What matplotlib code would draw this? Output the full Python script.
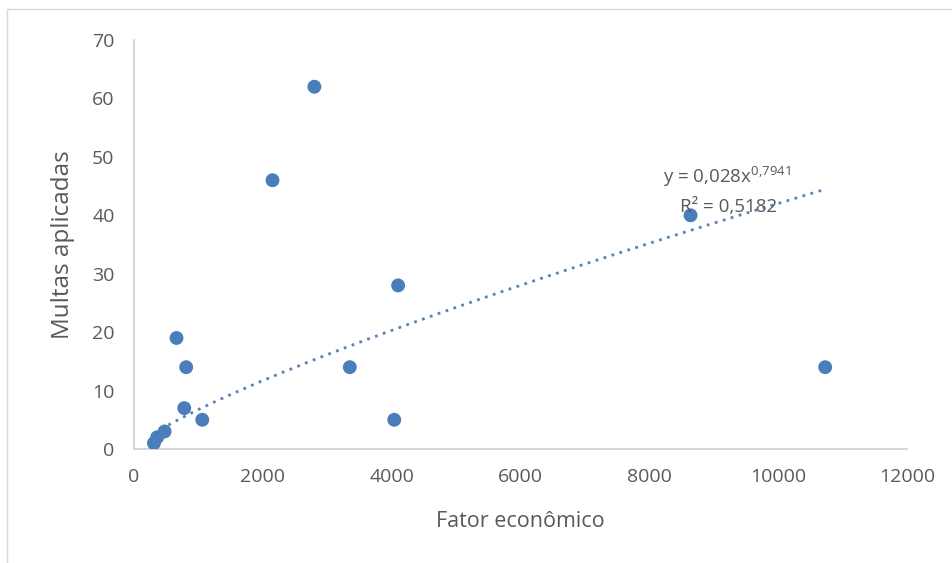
import numpy as np
import matplotlib
matplotlib.use("Agg")
import matplotlib.pyplot as plt
from matplotlib.patches import Rectangle

# Economic factor vs. fines applied
fator_economico = [2800, 2150, 8640, 4100, 10730, 3350, 4040, 660, 810, 780, 1060, 475, 360, 310]
multas_aplicadas = [62, 46, 40, 28, 14, 14, 5, 19, 14, 7, 5, 3, 2, 1]

# Power trendline y = a * x^b
coef_a = 0.028
coef_b = 0.7941
r_quadrado = "0,5182"

x_ticks = [0, 2000, 4000, 6000, 8000, 10000, 12000]
y_ticks = [0, 10, 20, 30, 40, 50, 60, 70]

plt.rcParams["font.family"] = ["Open Sans", "DejaVu Sans"]
plt.rcParams["mathtext.fontset"] = "custom"
plt.rcParams["mathtext.rm"] = "Open Sans"
plt.rcParams["mathtext.it"] = "Open Sans"
plt.rcParams["mathtext.default"] = "regular"
blue = "#4A7EBB"
gray_text = "#595959"
spine_gray = "#D0D0D0"

fig = plt.figure(figsize=(9.52, 5.63), dpi=100)
fig.patches.append(Rectangle((7 / 952, -0.01), 1.0, 1 - 9 / 563 + 0.01,
                             transform=fig.transFigure, fill=False,
                             edgecolor="#D9D9D9", linewidth=1.0))

ax = fig.add_axes([134 / 952, 1 - 449 / 563, (907 - 134) / 952, (449 - 40) / 563])

ax.scatter(fator_economico, multas_aplicadas, s=100, color=blue, zorder=3,
           edgecolors="none")

xt = np.linspace(min(fator_economico), max(fator_economico), 300)
ax.plot(xt, coef_a * xt ** coef_b, linestyle=(0, (1, 2.0)), color="#5A82B4",
        linewidth=2.0, zorder=2)

ax.set_xlim(0, 12000)
ax.set_ylim(0, 70)
ax.set_xticks(x_ticks)
ax.set_yticks(y_ticks)
ax.tick_params(length=0, labelsize=14, labelcolor=gray_text, pad=14)

for side in ("top", "right"):
    ax.spines[side].set_visible(False)
for side in ("left", "bottom"):
    ax.spines[side].set_color(spine_gray)
    ax.spines[side].set_linewidth(1.2)

ax.set_xlabel("Fator econômico", fontsize=15.5, color=gray_text, labelpad=18)
ax.set_ylabel("Multas aplicadas", fontsize=17.5, color=gray_text, labelpad=12)

eq = "y = 0,028x$^{0{,}7941}$"
fig.text(727 / 952, 1 - 177 / 563, eq, fontsize=13.5, color=gray_text,
         ha="center", va="center")
fig.text(729 / 952, 1 - 207 / 563, "R² = " + r_quadrado, fontsize=13.5,
         color=gray_text, ha="center", va="center")

fig.savefig("out.png", dpi=100)
